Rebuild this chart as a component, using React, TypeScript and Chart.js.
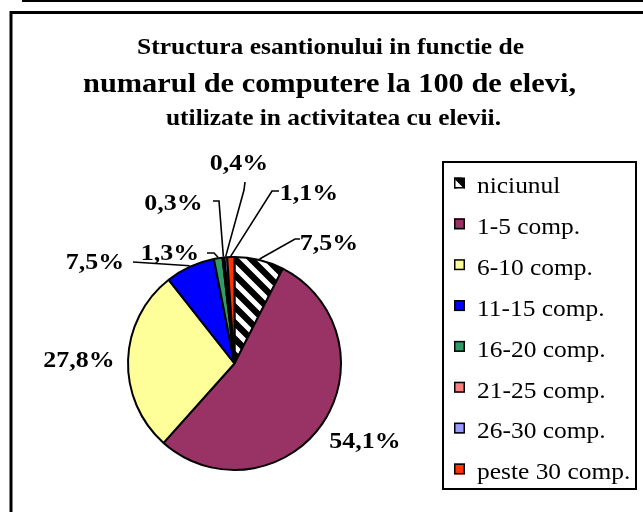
import { useEffect, useRef } from "react";
import { Chart, registerables } from "chart.js";

Chart.register(...registerables);

const TITLE_LINES = [
  "Structura esantionului in functie de",
  "numarul de computere la 100 de elevi,",
  "utilizate in activitatea cu elevii.",
];
const CATEGORIES = [
  "niciunul",
  "1-5 comp.",
  "6-10 comp.",
  "11-15 comp.",
  "16-20 comp.",
  "21-25 comp.",
  "26-30 comp.",
  "peste 30 comp.",
];
const SHARES = [7.5, 54.1, 27.8, 7.5, 1.3, 0.3, 0.4, 1.1];
const COLORS = ["hatch", "#993366", "#FFFF99", "#0000FF", "#339966", "#FF8080", "#9999FF", "#FF3300"];

// label placement relative to pie centre: text centre and leader elbow points
const LABEL_LAYOUT: { dx: number; dy: number; line: number[][] | null }[] = [
  { dx: 94.5, dy: -120.5, line: [[60.5, -124.5], [65.5, -124.5]] },
  { dx: 130.5, dy: 77.5, line: null },
  { dx: -155.5, dy: -3.5, line: null },
  { dx: -139.5, dy: -101.5, line: [[-101.5, -101.5]] },
  { dx: -64.5, dy: -110.5, line: [[-20.5, -110.5], [-27.5, -110.5]] },
  { dx: -61, dy: -160.5, line: [[-15.5, -162.5], [-21.5, -162.5]] },
  { dx: 4.5, dy: -200.5, line: [[9.5, -173.5], [10.5, -181.5]] },
  { dx: 74.5, dy: -170.5, line: [[37.5, -172.5], [44.5, -172.5]] },
];

const SERIF = '"Liberation Serif", "Times New Roman", Times, serif';

function drawScaled(ctx: CanvasRenderingContext2D, text: string, x: number, y: number, sx: number, align: CanvasTextAlign) {
  ctx.save();
  ctx.translate(x, y);
  ctx.scale(sx, 1);
  ctx.textAlign = align;
  ctx.fillText(text, 0, 0);
  ctx.restore();
}

export default function App() {
  const ref = useRef<HTMLCanvasElement>(null);

  useEffect(() => {
    const canvas = ref.current!;
    const tile = document.createElement("canvas");
    tile.width = 16;
    tile.height = 16;
    const t = tile.getContext("2d")!;
    t.fillStyle = "#000";
    t.fillRect(0, 0, 16, 16);
    t.strokeStyle = "#fff";
    t.lineWidth = 5;
    t.beginPath();
    for (let k = -1; k <= 1; k++) {
      t.moveTo(-8, -8 + 16 * k);
      t.lineTo(24, 24 + 16 * k);
    }
    t.stroke();
    const pattern = canvas.getContext("2d")!.createPattern(tile, "repeat")!;
    const fills = COLORS.map((c) => (c === "hatch" ? pattern : c));

    const decor = {
      id: "decor",
      beforeDraw(chart: any) {
        const ctx = chart.ctx as CanvasRenderingContext2D;
        ctx.save();
        ctx.fillStyle = "#fff";
        ctx.fillRect(0, 0, chart.width, chart.height);
        ctx.strokeStyle = "#000";
        ctx.lineWidth = 3;
        ctx.strokeRect(11, 12.5, 700, 600);
        ctx.lineWidth = 3;
        ctx.strokeRect(23.5, -200, 700, 200.5);
        ctx.restore();
      },
      afterDraw(chart: any) {
        const ctx = chart.ctx as CanvasRenderingContext2D;
        ctx.save();
        ctx.fillStyle = "#000";
        ctx.textBaseline = "alphabetic";
        // title
        const titleSpecs = [
          { size: 24, w: 387, x: 330.5, y: 54 },
          { size: 27, w: 493, x: 329.5, y: 92 },
          { size: 24, w: 335, x: 333.5, y: 125 },
        ];
        TITLE_LINES.forEach((line, i) => {
          const s = titleSpecs[i];
          ctx.font = `bold ${s.size}px ${SERIF}`;
          const m = ctx.measureText(line).width;
          drawScaled(ctx, line, s.x, s.y, s.w / m, "center");
        });

        // data labels and leader lines
        const meta = chart.getDatasetMeta(0);
        ctx.font = `bold 24px ${SERIF}`;
        ctx.strokeStyle = "#000";
        ctx.lineWidth = 1.6;
        meta.data.forEach((arc: any, i: number) => {
          const { x, y, startAngle, endAngle, outerRadius } = arc.getProps(
            ["x", "y", "startAngle", "endAngle", "outerRadius"],
            true
          );
          const mid = (startAngle + endAngle) / 2;
          const lay = LABEL_LAYOUT[i];
          if (lay.line) {
            ctx.beginPath();
            ctx.moveTo(x + Math.cos(mid) * (outerRadius + 1), y + Math.sin(mid) * (outerRadius + 1));
            lay.line.forEach((p) => ctx.lineTo(x + p[0], y + p[1]));
            ctx.stroke();
          }
          const text = SHARES[i].toFixed(1).replace(".", ",") + "%";
          ctx.textBaseline = "middle";
          drawScaled(ctx, text, x + lay.dx, y + lay.dy + 1, 1.08, "center");
        });

        // legend
        const lx = 443, ly = 162, lw = 193, lh = 327;
        ctx.lineWidth = 2;
        ctx.strokeRect(lx, ly, lw, lh);
        ctx.font = `24px ${SERIF}`;
        ctx.textBaseline = "alphabetic";
        const step = 40.85;
        CATEGORIES.forEach((lab, i) => {
          const sy = 177.5 + i * step;
          ctx.fillStyle = fills[i] as any;
          ctx.fillRect(454, sy, 11, 11);
          ctx.lineWidth = 1.5;
          ctx.strokeStyle = "#000";
          ctx.strokeRect(454.75, sy + 0.75, 9.5, 9.5);
          ctx.fillStyle = "#000";
          drawScaled(ctx, lab, 477, 193.3 + i * step, 1.06, "left");
        });
        ctx.restore();
      },
    };

    const chart = new Chart(canvas, {
      type: "pie",
      data: {
        labels: CATEGORIES,
        datasets: [
          {
            data: SHARES,
            backgroundColor: fills as any,
            borderColor: "#000",
            borderWidth: 2,
          },
        ],
      },
      options: {
        responsive: false,
        animation: false,
        devicePixelRatio: 1,
        layout: { padding: { left: 127, top: 256, right: 301, bottom: 41 } },
        plugins: {
          legend: { display: false },
          tooltip: { enabled: false },
          title: { display: false },
        },
      },
      plugins: [decor],
    });
    let alive = true;
    const fontsApi: any = (document as any).fonts;
    if (fontsApi && fontsApi.load) {
      Promise.all([
        fontsApi.load('bold 24px "Liberation Serif"'),
        fontsApi.load('24px "Liberation Serif"'),
      ])
        .catch(() => null)
        .then(() => {
          if (alive) chart.update();
        });
    }
    return () => {
      alive = false;
      chart.destroy();
    };
  }, []);

  return (
    <div style={{ position: "fixed", left: 0, top: 0, width: 643, height: 512, background: "#fff" }}>
      <span
        style={{ position: "absolute", left: -9999, top: 0, fontFamily: '"Liberation Serif"', fontWeight: "bold" }}
      >
        Liberation
      </span>
      <span style={{ position: "absolute", left: -9999, top: 30, fontFamily: '"Liberation Serif"' }}>Liberation</span>
      <canvas ref={ref} width={643} height={512} style={{ display: "block" }} />
    </div>
  );
}
